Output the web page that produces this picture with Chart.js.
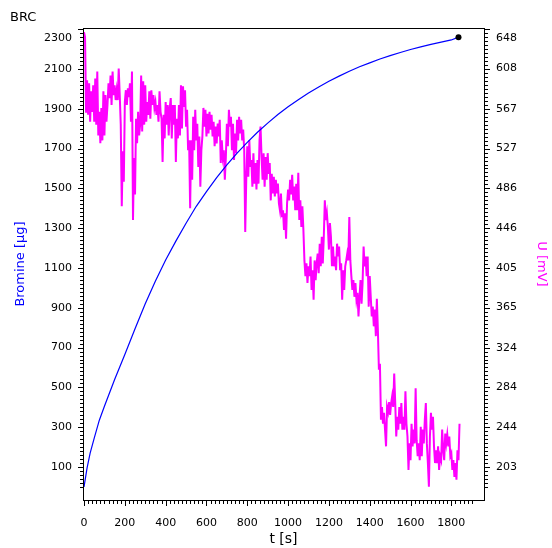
<!DOCTYPE html>
<html>
<head>
<meta charset="utf-8">
<script src="https://cdn.jsdelivr.net/npm/chart.js@4.4.1/dist/chart.umd.min.js"></script>
<style>
  html, body { margin: 0; padding: 0; background: #fff; }
  canvas { display: block; }
</style>
</head>
<body>
<canvas id="brc" width="552" height="548"></canvas>
<script>
// ---------- DATA ----------
// bromine dosed [µg] over time [s]
const bromineTimes = [0, 15, 30, 50, 75, 100, 150, 200, 250, 300, 350, 400, 450, 500, 550, 600, 650, 700, 750, 800,
  850, 900, 950, 1000, 1050, 1100, 1150, 1200, 1250, 1300, 1350, 1400, 1450, 1500, 1550, 1600, 1650, 1700, 1750, 1800, 1835];
const bromineValues = [0, 95, 170, 245, 335, 405, 540, 665, 795, 920, 1035, 1140, 1235, 1325, 1410, 1484, 1554, 1618, 1677, 1731,
  1782, 1828, 1871, 1910, 1946, 1979, 2010, 2038, 2064, 2089, 2111, 2131, 2150, 2167, 2183, 2198, 2211, 2224, 2235, 2246, 2260];

// electrode potential U [mV], one reading every U_STEP seconds from t = 0
const U_STEP = 5;
const potentialValues = [
  645, 640, 563, 596, 561, 593, 554, 585, 564, 591, 554, 598, 551, 605, 540, 564, 532, 568, 535, 585,
  540, 581, 554, 571, 593, 578, 601, 571, 605, 581, 591, 576, 586, 576, 608, 581, 551, 468, 524, 493,
  574, 586, 571, 588, 579, 593, 554, 605, 454, 517, 480, 557, 532, 564, 540, 551, 601, 544, 595, 551,
  591, 554, 574, 561, 585, 557, 586, 571, 581, 568, 574, 561, 571, 554, 585, 564, 557, 513, 561, 537,
  574, 551, 571, 540, 568, 578, 537, 571, 551, 571, 513, 557, 537, 571, 540, 591, 547, 590, 569, 586,
  549, 566, 525, 535, 466, 535, 495, 559, 525, 566, 535, 552, 508, 539, 488, 525, 539, 568, 549, 566,
  539, 562, 542, 564, 546, 561, 539, 554, 529, 549, 532, 552, 539, 556, 512, 535, 518, 525, 495, 518,
  552, 529, 566, 549, 559, 525, 552, 515, 542, 522, 556, 535, 559, 542, 556, 535, 546, 525, 442, 495,
  529, 498, 535, 508, 515, 488, 522, 491, 512, 485, 515, 491, 535, 549, 518, 495, 522, 488, 518, 495,
  522, 501, 512, 474, 501, 481, 498, 478, 495, 481, 491, 471, 464, 481, 457, 464, 444, 461, 435, 471,
  485, 474, 495, 480, 500, 474, 488, 464, 491, 464, 502, 454, 474, 447, 468, 444, 413, 397, 410, 390,
  407, 397, 417, 383, 403, 373, 413, 393, 410, 420, 400, 430, 407, 437, 410, 437, 474, 454, 461, 447,
  424, 451, 437, 407, 427, 407, 417, 403, 430, 417, 427, 403, 410, 373, 403, 383, 407, 413, 420, 413,
  457, 413, 397, 383, 393, 376, 390, 373, 380, 356, 376, 393, 369, 390, 427, 407, 417, 397, 417, 366,
  397, 376, 356, 366, 346, 363, 336, 374, 342, 302, 308, 251, 264, 247, 258, 241, 224, 264, 259, 269,
  256, 268, 275, 264, 298, 268, 234, 254, 241, 264, 247, 268, 241, 254, 241, 280, 247, 234, 200, 227,
  210, 247, 224, 241, 227, 283, 230, 214, 227, 210, 244, 214, 241, 227, 251, 268, 227, 207, 183, 234,
  258, 241, 254, 224, 207, 220, 207, 224, 200, 214, 210, 241, 220, 210, 237, 227, 236, 224, 234, 214,
  217, 200, 210, 193, 207, 190, 220, 210, 247
];

// axis ticks
const timeTicks = [0, 200, 400, 600, 800, 1000, 1200, 1400, 1600, 1800];
const bromineTicks = [100, 300, 500, 700, 900, 1100, 1300, 1500, 1700, 1900, 2100, 2300];
const potentialTicks = [203, 244, 284, 324, 365, 405, 446, 486, 527, 567, 608, 648];

// ---------- AXIS RANGES ----------
const T_MIN = -5, T_MAX = 1960;
const BR_MIN = -66, BR_MAX = 2306;
// right axis is a linear rescale of the left one: U = U0 + K * bromine
const U0 = 182.8, K = 0.20227;
const U_MIN = U0 + K * BR_MIN, U_MAX = U0 + K * BR_MAX;

const FONT = "DejaVu Sans, Verdana, sans-serif";

const bromineData = bromineTimes.map((t, i) => ({ x: t, y: bromineValues[i] }));
const potentialData = potentialValues.map((u, i) => ({ x: i * U_STEP, y: u }));

// frame, minor/major tick marks and tick labels
const frameAndTicks = {
  id: "frameAndTicks",
  afterDraw(chart) {
    const { ctx, chartArea: a, scales: { x, y, y1 } } = chart;
    ctx.save();
    ctx.strokeStyle = "#000";
    ctx.lineWidth = 1;
    ctx.strokeRect(a.left + 0.5, a.top + 0.5, a.right - a.left, a.bottom - a.top);

    ctx.beginPath();
    for (let v = 0; v <= 2300; v += 20) {
      const py = Math.round(y.getPixelForValue(v)) + 0.5;
      const len = bromineTicks.includes(v) ? 5 : 3;
      ctx.moveTo(a.left, py); ctx.lineTo(a.left - len, py);
      ctx.moveTo(a.right + 1, py); ctx.lineTo(a.right + 1 + len, py);
    }
    for (let t = 0; t <= 1900; t += 20) {
      const px = Math.round(x.getPixelForValue(t)) + 0.5;
      const len = timeTicks.includes(t) ? 5 : 3;
      ctx.moveTo(px, a.bottom + 1); ctx.lineTo(px, a.bottom + 1 + len);
    }
    ctx.stroke();

    ctx.fillStyle = "#000";
    ctx.font = "11px " + FONT;
    ctx.textBaseline = "middle";
    ctx.textAlign = "right";
    bromineTicks.forEach(v => {
      const py = Math.max(y.getPixelForValue(v), a.top + 10);
      ctx.fillText(String(v), a.left - 11, py);
    });
    ctx.textAlign = "left";
    potentialTicks.forEach(u => {
      const py = Math.max(y1.getPixelForValue(u), a.top + 10);
      ctx.fillText(String(u), a.right + 12, py);
    });
    ctx.textAlign = "center";
    timeTicks.forEach(t => {
      ctx.fillText(String(t), x.getPixelForValue(t), a.bottom + 23);
    });

    ctx.textAlign = "left";
    ctx.font = "13px " + FONT;
    ctx.fillText("BRC", 10, 18);
    ctx.restore();
  }
};

new Chart(document.getElementById("brc").getContext("2d"), {
  type: "line",
  data: {
    datasets: [
      {
        label: "Bromine", data: bromineData, yAxisID: "y",
        borderColor: "#0000ff", borderWidth: 1.2, tension: 0,
        pointRadius: ctx => ctx.dataIndex === bromineData.length - 1 ? 3 : 0,
        pointBackgroundColor: "#000", pointBorderColor: "#000", pointBorderWidth: 0
      },
      {
        label: "U", data: potentialData, yAxisID: "y1",
        borderColor: "#ff00ff", borderWidth: 2, tension: 0, pointRadius: 0
      }
    ]
  },
  options: {
    responsive: false, animation: false, devicePixelRatio: 1,
    layout: { padding: { top: 28, left: 0, right: 0, bottom: 0 } },
    plugins: { legend: { display: false }, tooltip: { enabled: false } },
    scales: {
      x: {
        type: "linear", min: T_MIN, max: T_MAX,
        grid: { display: false }, border: { display: false }, ticks: { display: false },
        title: { display: true, text: "t [s]", color: "#000", font: { family: FONT, size: 14 }, padding: { top: 0, bottom: 0 } },
        afterFit: s => { s.height = 48; }
      },
      y: {
        position: "left", min: BR_MIN, max: BR_MAX,
        grid: { display: false }, border: { display: false }, ticks: { display: false },
        title: { display: true, text: "Bromine [µg]", color: "#0000ff", font: { family: FONT, size: 13 }, padding: { top: 13, bottom: 0 } },
        afterFit: s => { s.width = 83; }
      },
      y1: {
        position: "right", min: U_MIN, max: U_MAX,
        grid: { display: false }, border: { display: false }, ticks: { display: false },
        title: { display: true, text: "U [mV]", color: "#ff00ff", font: { family: FONT, size: 13 }, padding: { top: 3, bottom: 0 } },
        afterFit: s => { s.width = 68; }
      }
    }
  },
  plugins: [frameAndTicks]
});
</script>
</body>
</html>
